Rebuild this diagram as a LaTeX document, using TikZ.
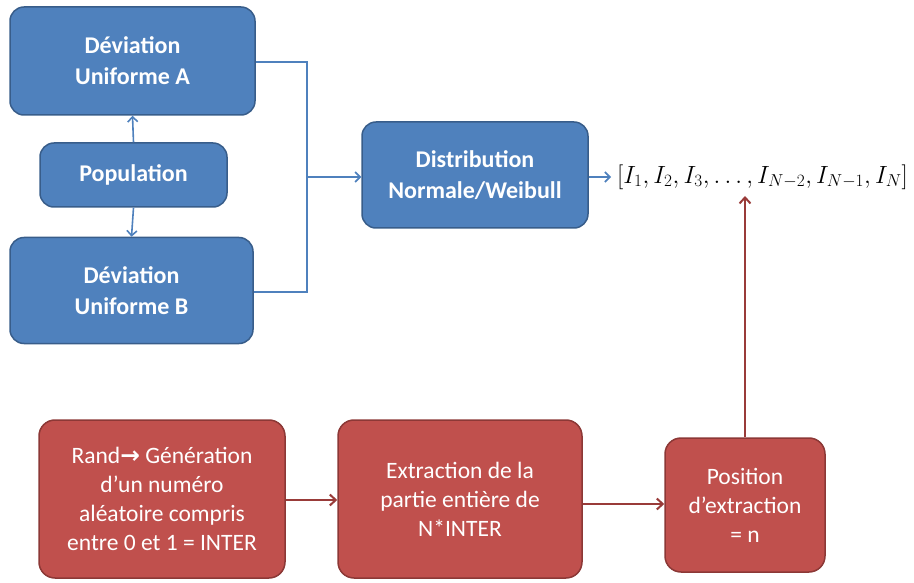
\documentclass[tikz,border=0pt]{standalone}
\usepackage{fontspec}
\setmainfont{Carlito}
\newfontfamily\symfont{DejaVu Sans}
\usetikzlibrary{arrows.meta}
\definecolor{bfill}{HTML}{4F81BD}
\definecolor{bdraw}{HTML}{385D8A}
\definecolor{rfill}{HTML}{C0504D}
\definecolor{rdraw}{HTML}{8C3836}
\definecolor{rline}{HTML}{993B39}
\tikzset{
  bluebox/.style={draw=bdraw, fill=bfill, line width=1.5pt, rounded corners=14pt, text=white, font=\fontsize{24}{31}\selectfont\bfseries, align=center, inner sep=0pt},
  redbox/.style={draw=rdraw, fill=rfill, line width=1.5pt, rounded corners=16pt, text=white, font=\fontsize{23.5}{29}\selectfont, align=center, inner sep=0pt},
  bline/.style={draw=bfill, line width=1.6pt},
  barrow/.style={bline, -{Straight Barb[length=5pt,width=10pt,line width=1.6pt]}},
  rarrow/.style={draw=rline, line width=2pt, -{Straight Barb[length=6pt,width=11pt,line width=2pt]}},
}
\begin{document}
\begin{tikzpicture}[x=1pt,y=-1pt]
\useasboundingbox (0,0) rectangle (914,583);
\node[bluebox, minimum width=245pt, minimum height=108pt] (A) at (132.5,61) {Déviation\\Uniforme A};
\node[bluebox, minimum width=187pt, minimum height=64pt] (P) at (133.5,175) {Population};
\node[bluebox, minimum width=243pt, minimum height=106pt] (B) at (131.5,290.5) {Déviation\\Uniforme B};
\node[bluebox, minimum width=226pt, minimum height=106pt] (D) at (475,175) {Distribution\\Normale/Weibull};
\node[anchor=west, inner sep=0pt, font=\fontsize{25}{28}\selectfont] (L) at (617,177) {$[I_1, I_2, I_3, \ldots, I_{N-2}, I_{N-1}, I_N]$};
\coordinate (J) at (307,177);
\draw[barrow] (P.north) -- (A.south);
\draw[barrow] (P.south) -- (B.south |- B.north);
\draw[bline] (A.east |- 0,62) -| (J);
\draw[bline] (B.east |- 0,292) -| (J);
\draw[barrow] (J) -- (D.west |- J);
\draw[barrow] (D.east |- J) -- (611,177);

\node[redbox, minimum width=246pt, minimum height=158pt] (R) at (162,499) {\raisebox{0pt}{}Rand{\symfont\bfseries →} Génération\\d’un numéro\\aléatoire compris\\entre 0 et 1 = INTER};
\node[redbox, minimum width=244pt, minimum height=158pt] (E) at (460,499) {Extraction de la\\partie entière de\\N*INTER};
\node[redbox, minimum width=160pt, minimum height=134pt] (Q) at (745,505) {Position\\d’extraction\\= n};
\coordinate (T) at (745,196);
\draw[rarrow] (R.east |- 0,500) -- (E.west |- 0,500);
\draw[rarrow] (E.east |- 0,504) -- (Q.west |- 0,504);
\draw[rarrow] (Q.north) -- (T);
\end{tikzpicture}
\end{document}
